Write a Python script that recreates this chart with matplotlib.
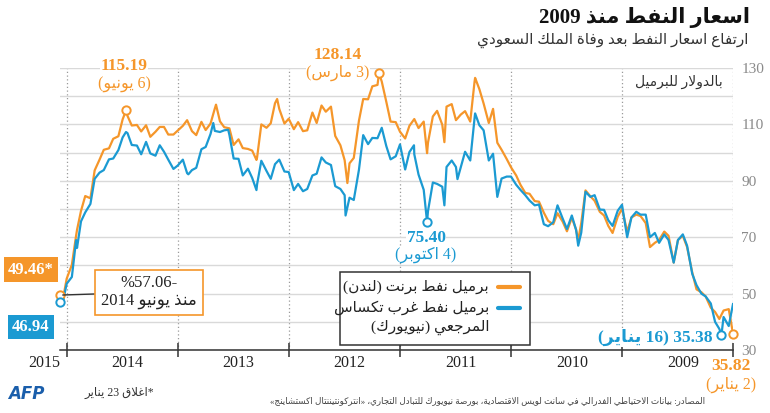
import re

import matplotlib

matplotlib.use("Agg")
import matplotlib.dates as mdates
import matplotlib.pyplot as plt
import pandas as pd
from matplotlib.lines import Line2D
from matplotlib.patches import Rectangle

# ---- data (USD / barrel), values on the 1st and 15th of each month ----
grid_dates = pd.date_range("2009-01-01", "2015-01-15", freq="SMS")

brent_2009 = [35.82, 44.5, 44.0, 41.0, 43.5, 45.0, 49.0, 50.5, 51.5, 57.5, 66.5, 70.5,
              69.0, 61.0, 70.5, 72.0, 69.0, 68.0, 66.5, 75.0, 77.5, 78.0, 77.0, 72.0]
brent_2010 = [80.1, 77.3, 71.5, 74.0, 77.7, 79.0, 82.9, 84.5, 86.6, 75.0, 72.7, 76.9,
              72.1, 75.5, 78.5, 74.6, 75.8, 78.7, 82.6, 82.8, 85.4, 85.7, 88.6, 91.9]
brent_2011 = [94.8, 97.7, 101.0, 103.5, 115.5, 110.5, 117.4, 122.5, 125.0, 111.0, 114.7, 113.5,
              111.5, 117.2, 116.3, 109.9, 114.8, 112.8, 103.5, 111.0, 108.7, 111.9, 109.5, 105.0]
brent_2012 = [107.4, 110.8, 111.0, 118.0, 125.2, 124.0, 123.5, 118.9, 119.0, 111.3, 98.1, 96.2,
              97.3, 102.6, 105.9, 116.3, 114.5, 116.7, 110.5, 114.2, 107.9, 107.6, 110.8, 108.3]
brent_2013 = [112.0, 110.3, 115.5, 117.5, 110.4, 108.8, 110.0, 98.2, 100.7, 101.3, 101.6, 104.7,
              102.7, 108.6, 109.0, 111.1, 115.6, 110.3, 108.0, 110.9, 106.2, 107.6, 111.5, 109.5]
brent_2014 = [107.8, 106.4, 106.4, 109.1, 109.1, 107.4, 105.6, 109.7, 107.5, 109.8, 109.6, 113.0,
              111.8, 105.8, 104.9, 101.5, 101.0, 97.5, 93.7, 83.8, 84.6, 79.3, 70.6, 60.2]
brent_2015 = [55.3, 47.0]

wti_2009 = [46.3, 38.5, 41.7, 37.5, 40.0, 46.5, 49.0, 50.0, 53.0, 57.0, 67.0, 71.0,
            69.0, 61.0, 69.0, 71.0, 68.0, 71.5, 70.0, 78.0, 78.0, 79.0, 77.0, 70.0]
wti_2010 = [81.5, 79.4, 74.0, 76.0, 79.7, 79.8, 84.9, 84.3, 86.1, 71.6, 72.6, 77.7,
            72.9, 76.6, 81.3, 75.3, 73.9, 74.6, 81.6, 81.3, 83.0, 84.9, 86.8, 88.6]
wti_2011 = [91.5, 91.5, 90.8, 84.3, 99.6, 97.2, 107.9, 109.7, 112.0, 97.2, 100.3, 94.8,
            94.9, 97.2, 94.9, 87.9, 88.9, 89.4, 79.2, 86.8, 92.2, 99.4, 100.2, 94.0]
wti_2012 = [102.9, 98.7, 97.6, 102.3, 108.8, 105.1, 105.2, 103.0, 106.2, 93.9, 83.2, 84.0,
            84.9, 87.1, 88.1, 95.6, 96.5, 98.3, 92.5, 91.9, 87.1, 86.3, 88.9, 86.7]
wti_2013 = [93.1, 93.3, 97.5, 95.9, 90.7, 93.5, 97.1, 88.7, 91.0, 94.3, 91.9, 97.8,
            97.9, 106.3, 107.9, 107.3, 107.7, 106.6, 102.0, 101.2, 94.6, 93.8, 92.7, 97.5]
wti_2014 = [95.4, 94.2, 97.5, 100.3, 102.6, 98.9, 99.7, 103.8, 99.4, 102.5, 102.7, 106.9,
            105.4, 100.9, 97.9, 97.6, 93.8, 92.9, 90.7, 81.8, 78.8, 75.6, 68.98, 55.9]
wti_2015 = [53.5, 46.3]

# daily extremes and last close
brent_extra_dates = ["2010-05-25", "2011-04-29", "2011-08-08", "2011-10-04", "2012-03-10",
                     "2012-06-22", "2013-02-08", "2013-04-17", "2013-08-28", "2014-06-19",
                     "2014-11-28", "2015-01-23"]
brent_extra_values = [69.0, 126.5, 103.7, 99.8, 128.14, 89.2, 119.0, 97.4, 117.0, 115.19,
                      72.6, 49.46]
wti_extra_dates = ["2009-02-08", "2010-05-25", "2011-04-29", "2011-06-26", "2011-08-08",
                   "2011-10-04", "2011-11-16", "2012-06-28", "2013-04-17", "2013-07-19",
                   "2013-09-06", "2013-11-27", "2014-06-20", "2014-11-28", "2015-01-23"]
wti_extra_values = [35.38, 67.0, 113.9, 90.6, 81.3, 75.40, 102.6, 77.7, 86.7, 108.1,
                    110.5, 92.3, 107.3, 66.2, 46.94]

year_labels = ["2009", "2010", "2011", "2012", "2013", "2014"]
y_ticks = [30, 50, 70, 90, 110, 130]

ORANGE = "#F5962A"
BLUE = "#1B9AD2"
GRID = "#d9d9d9"
FONT = ["Liberation Serif", "DejaVu Sans"]

# ---- minimal Arabic shaping (presentation forms) + RTL reordering ----
_DUAL = {"ئ": 0xFE89, "ب": 0xFE8F, "ت": 0xFE95, "ث": 0xFE99, "ج": 0xFE9D, "ح": 0xFEA1,
         "خ": 0xFEA5, "س": 0xFEB1, "ش": 0xFEB5, "ص": 0xFEB9, "ض": 0xFEBD, "ط": 0xFEC1,
         "ظ": 0xFEC5, "ع": 0xFEC9, "غ": 0xFECD, "ف": 0xFED1, "ق": 0xFED5, "ك": 0xFED9,
         "ل": 0xFEDD, "م": 0xFEE1, "ن": 0xFEE5, "ه": 0xFEE9, "ي": 0xFEF1}
_RIGHT = {"آ": 0xFE81, "أ": 0xFE83, "ؤ": 0xFE85, "إ": 0xFE87, "ا": 0xFE8D, "ة": 0xFE93,
          "د": 0xFEA9, "ذ": 0xFEAB, "ر": 0xFEAD, "ز": 0xFEAF, "و": 0xFEED, "ى": 0xFEEF}
_LAM_ALEF = {"ا": 0xFEFB, "أ": 0xFEF7, "إ": 0xFEF9, "آ": 0xFEF5}
_MIRROR = str.maketrans("()«»", ")(»«")


def _shape(word):
    units = []
    i = 0
    while i < len(word):
        c = word[i]
        if c == "ل" and i + 1 < len(word) and word[i + 1] in _LAM_ALEF:
            units.append(("R", _LAM_ALEF[word[i + 1]]))
            i += 2
            continue
        if c in _DUAL:
            units.append(("D", _DUAL[c]))
        elif c in _RIGHT:
            units.append(("R", _RIGHT[c]))
        else:
            units.append(("N", ord(c)))
        i += 1
    out = []
    for k, (kind, base) in enumerate(units):
        if kind == "N":
            out.append(chr(base))
            continue
        prev = units[k - 1][0] if k > 0 else "N"
        nxt = units[k + 1][0] if k + 1 < len(units) else "N"
        jp = prev == "D"
        jn = kind == "D" and nxt in "DR"
        off = 3 if (jp and jn) else 1 if jp else 2 if jn else 0
        out.append(chr(base + off))
    return "".join(out)


def rtl(text):
    shaped = re.sub(r"[\u0621-\u064A]+", lambda m: _shape(m.group()), text)
    vis = shaped[::-1]
    vis = re.sub(r"\d+(?:[.,]\d+)*", lambda m: m.group()[::-1], vis)
    return vis.translate(_MIRROR)


def fpos(x, y):
    # pixel position on the 770x413 canvas -> figure fraction
    return x / 770, 1 - y / 413


# ---- series ----
def build(values, extra_dates, extra_values):
    s = pd.Series(values, index=grid_dates)
    e = pd.Series(extra_values, index=pd.to_datetime(extra_dates))
    return pd.concat([s, e]).sort_index()


brent = build(brent_2009 + brent_2010 + brent_2011 + brent_2012 + brent_2013 + brent_2014
              + brent_2015, brent_extra_dates, brent_extra_values)
wti = build(wti_2009 + wti_2010 + wti_2011 + wti_2012 + wti_2013 + wti_2014 + wti_2015,
            wti_extra_dates, wti_extra_values)

fig = plt.figure(figsize=(7.7, 4.13), dpi=100)
ax = fig.add_axes([60 / 770, 63 / 413, 673 / 770, 282 / 413])

ax.plot(brent.index, brent.values, color=ORANGE, lw=1.6, zorder=3)
ax.plot(wti.index, wti.values, color=BLUE, lw=1.6, zorder=4)

ax.set_xlim(pd.Timestamp("2015-01-23"), pd.Timestamp("2009-01-01"))
ax.set_ylim(30, 130)

# axes styling
for side in ("top", "left", "right"):
    ax.spines[side].set_visible(False)
ax.spines["bottom"].set_color("#333333")
ax.spines["bottom"].set_linewidth(1.1)
ax.xaxis.set_major_locator(mdates.YearLocator())
ax.xaxis.set_major_formatter(plt.NullFormatter())
ax.tick_params(axis="x", direction="inout", length=10, width=1.1, color="#333333")
ax.grid(axis="x", which="major", color="#9a9a9a", linestyle=(0, (1, 2)), lw=0.9)

ax.yaxis.tick_right()
ax.set_yticks(y_ticks)
ax.set_yticks(range(40, 130, 20), minor=True)
ax.tick_params(axis="y", which="both", length=0, pad=6, labelcolor="#8a8a8a", labelsize=11)
for lbl in ax.get_yticklabels():
    lbl.set_family(FONT)
ax.grid(axis="y", which="both", color=GRID, lw=1)
ax.set_axisbelow(True)

xt = ax.get_xaxis_transform()
for yr in year_labels:
    ax.text(pd.Timestamp(f"{yr}-06-15"), -0.047, yr, transform=xt, ha="center", va="center",
            fontsize=11.5, family=FONT, color="#222222")
ax.text(pd.Timestamp("2015-03-15"), -0.047, "2015", transform=xt, ha="center", va="center",
        fontsize=11.5, family=FONT, color="#222222")


# ---- point markers and labels ----
def ring(d, v, color):
    ax.plot([pd.Timestamp(d)], [v], "o", ms=6, mfc="white", mec=color, mew=1.4,
            zorder=6, clip_on=False)


def label(d, v, text, dx, dy, color, size=12.5, ha="center", bold=True):
    ax.annotate(text, (pd.Timestamp(d), v), xytext=(dx, dy), textcoords="offset points",
                ha=ha, va="center", fontsize=size, color=color, family=FONT,
                weight="bold" if bold else "normal", zorder=7, annotation_clip=False,
                bbox=dict(fc="white", ec="none", pad=0.3))


ring("2014-06-19", 115.19, ORANGE)
label("2014-06-19", 115.19, "115.19", -1.5, 31.5, ORANGE)
label("2014-06-19", 115.19, rtl("(6 يونيو)"), -1.5, 18, ORANGE, size=11.5, bold=False)

ring("2012-03-10", 128.14, ORANGE)
label("2012-03-10", 128.14, "128.14", -29.5, 13, ORANGE)
label("2012-03-10", 128.14, rtl("(3 مارس)"), -29.5, 0, ORANGE, size=11.5, bold=False)

ring("2011-10-04", 75.40, BLUE)
label("2011-10-04", 75.40, "75.40", -0.7, -11.5, BLUE)
label("2011-10-04", 75.40, rtl("(4 اكتوبر)"), -0.7, -23.5, BLUE, size=11.5, bold=False)

ring("2009-02-08", 35.38, BLUE)
label("2009-02-08", 35.38, rtl("35.38 (16 يناير)"), -6.5, -2, BLUE, ha="right")

ring("2009-01-01", 35.82, ORANGE)
label("2009-01-01", 35.82, "35.82", -1.4, -23.5, ORANGE)
label("2009-01-01", 35.82, rtl("(2 يناير)"), -1.4, -37, ORANGE, size=11.5, bold=False)

# last close boxes
for val, color, dy in ((49.46, ORANGE, 18.4), (46.94, BLUE, -17.6)):
    ring("2015-01-23", val, color)
    txt = f"{val:.2f}*" if color == ORANGE else f"{val:.2f}"
    ax.annotate(txt, (pd.Timestamp("2015-01-23"), val), xytext=(-21, dy),
                textcoords="offset points", ha="center", va="center", fontsize=12,
                color="white", weight="bold", family=FONT, zorder=7, annotation_clip=False,
                bbox=dict(boxstyle="square,pad=0.25", fc=color, ec="none"))

ax.annotate(rtl("-57.06%") + "\n" + rtl("منذ يونيو 2014"),
            (pd.Timestamp("2015-01-14"), 49.5), xytext=(62, 2), textcoords="offset points",
            ha="center", va="center", fontsize=12, family=FONT, color="#222222",
            multialignment="center", linespacing=1.15, zorder=7,
            bbox=dict(boxstyle="square,pad=0.35", fc="white", ec=ORANGE, lw=1.2),
            arrowprops=dict(arrowstyle="-", color="#333333", lw=1, shrinkA=0, shrinkB=0))

# ---- legend (drawn by hand, handles on the right) ----
fig.add_artist(Rectangle(fpos(340, 345), 190 / 770, 73 / 413, transform=fig.transFigure,
                         fc="white", ec="#333333", lw=1.1, zorder=8))
for y, color in ((287, ORANGE), (308, BLUE)):
    x0, yy = fpos(498, y)
    x1, _ = fpos(520, y)
    fig.add_artist(Line2D([x0, x1], [yy, yy], color=color, lw=3, transform=fig.transFigure,
                          zorder=9, solid_capstyle="round"))
for y, text in ((287, "برميل نفط برنت (لندن)"), (308, "برميل نفط غرب تكساس"),
                (327, "المرجعي (نيويورك)")):
    fig.text(*fpos(489, y), rtl(text), ha="right", va="center", fontsize=11,
             family=FONT, color="#222222", zorder=9)

fig.text(*fpos(723, 82), rtl("بالدولار للبرميل"), ha="right", va="center", fontsize=10,
         family=FONT, color="#333333")

# ---- titles and footer ----
fig.text(*fpos(750, 18), rtl("اسعار النفط منذ 2009"), ha="right", va="center",
         fontsize=15, weight="bold", family=FONT, color="#111111")
fig.text(*fpos(748, 40), rtl("ارتفاع اسعار النفط بعد وفاة الملك السعودي"), ha="right",
         va="center", fontsize=11, family=FONT, color="#333333")

fig.text(*fpos(8, 394), "AFP", ha="left", va="center", fontsize=12, weight="bold",
         style="italic", family="DejaVu Sans", color="#1A5EAB")
fig.text(*fpos(154, 393), rtl("*اغلاق 23 يناير"), ha="right", va="center", fontsize=8.5,
         family=FONT, color="#333333")
fig.text(*fpos(705, 401),
         rtl("المصادر: بيانات الاحتياطي الفدرالي في سانت لويس الاقتصادية، "
             "بورصة نيويورك للتبادل التجاري، «انتركونتيننتال اكستشاينج»"),
         ha="right", va="center", fontsize=6.3, family=FONT, color="#444444")

fig.savefig("out.png", dpi=100)
